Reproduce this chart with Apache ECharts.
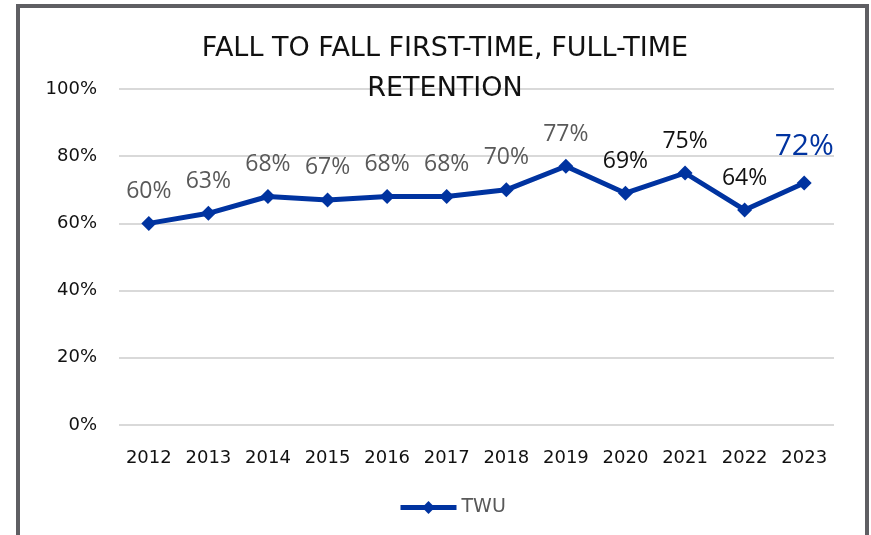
<!DOCTYPE html>
<html>
<head>
<meta charset="utf-8">
<script src="https://cdn.jsdelivr.net/npm/echarts@6/dist/echarts.min.js"></script>
<style>
  html, body { margin: 0; padding: 0; background: #fff; }
  #chart { width: 871px; height: 535px; }
  #frame {
    position: absolute; left: 16px; top: 4px; width: 845px; height: 540px;
    border: 4px solid #5f5f63; border-bottom: none; pointer-events: none;
  }
</style>
</head>
<body>
<div id="chart"></div>
<div id="frame"></div>
<script>
// data
var years = ['2012','2013','2014','2015','2016','2017','2018','2019','2020','2021','2022','2023'];
var retention = [60, 63, 68, 67, 68, 68, 70, 77, 69, 75, 64, 72];
var labelColors = ['#595959','#595959','#595959','#595959','#595959','#595959','#595959','#595959','#111','#111','#111','#0033a0'];
var yTicks = [0, 20, 40, 60, 80, 100];

var chart = echarts.init(document.getElementById('chart'));

var seriesData = retention.map(function (v, i) {
  var last = i === retention.length - 1;
  return {
    value: v,
    label: {
      color: labelColors[i],
      fontSize: last ? 30 : 23,
      distance: last ? 14 : 13
    }
  };
});

var option = {
  animation: false,
  title: {
    text: 'FALL TO FALL FIRST-TIME, FULL-TIME\nRETENTION',
    left: 440,
    textAlign: 'center',
    top: 24,
    textStyle: {
      fontFamily: 'DejaVu Sans',
      fontWeight: 'normal',
      fontSize: 27,
      lineHeight: 40,
      color: '#111'
    }
  },
  legend: {
    bottom: 13,
    left: 393,
    itemWidth: 56,
    itemHeight: 16,
    itemGap: 6,
    data: ['TWU'],
    lineStyle: { width: 5 },
    textStyle: { fontFamily: 'DejaVu Sans', fontSize: 19, color: '#595959' }
  },
  grid: { left: 119, right: 37, top: 89, bottom: 110 },
  xAxis: {
    type: 'category',
    data: years,
    axisLine: { show: false },
    axisTick: { show: false },
    axisLabel: { fontFamily: 'DejaVu Sans', fontSize: 18, color: '#111', margin: 24 }
  },
  yAxis: {
    type: 'value',
    min: yTicks[0],
    max: yTicks[yTicks.length - 1],
    interval: 20,
    axisLabel: {
      formatter: '{value}%',
      fontFamily: 'DejaVu Sans', fontSize: 18, color: '#111', margin: 22
    },
    splitLine: { lineStyle: { color: '#d9d9d9', width: 2 } }
  },
  series: [{
    name: 'TWU',
    type: 'line',
    data: seriesData,
    symbol: 'diamond',
    symbolSize: 15,
    itemStyle: { color: '#0033a0' },
    lineStyle: { color: '#0033a0', width: 5 },
    label: {
      show: true,
      position: 'top',
      formatter: '{c}%',
      fontFamily: 'Open Sans'
    }
  }]
};

chart.setOption(option);
</script>
</body>
</html>
